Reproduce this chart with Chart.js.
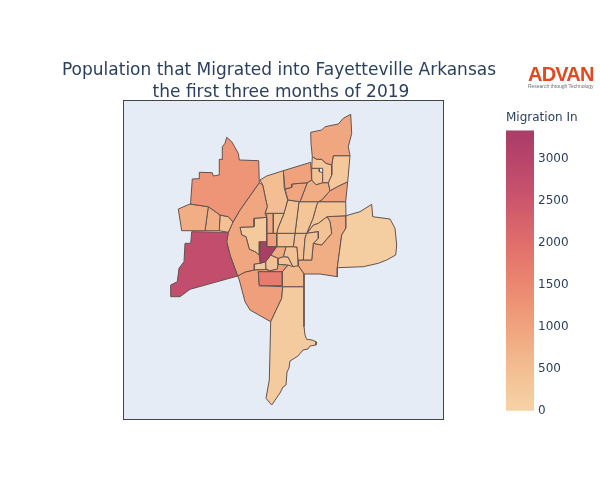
<!DOCTYPE html>
<html>
<head>
<meta charset="utf-8">
<script src="https://cdn.jsdelivr.net/npm/chart.js@4"></script>
<style>
html,body{margin:0;padding:0;background:#fff;width:600px;height:500px;overflow:hidden}
#title{position:absolute;left:0;top:58px;width:558px;text-align:center;color:#2a3f5f;font:17px/22px "DejaVu Sans",sans-serif}
#title span{position:relative;left:2px}
#mapBox{position:absolute;left:0;top:0;width:558px;height:500px}
#barBox{position:absolute;left:506px;top:108px;width:94px;height:314px}
#logo{position:absolute;left:528px;top:63px;width:68px;color:#e2491f;font:bold 20px/22px "Liberation Sans",sans-serif;letter-spacing:-0.8px}
#logo small{display:block;margin-top:-2px;color:#6d6d6d;font:normal 5px/7px "Liberation Sans",sans-serif;letter-spacing:-0.03px;white-space:nowrap}
</style>
</head>
<body>
<div id="mapBox"><canvas id="mapChart"></canvas></div>
<div id="barBox"><canvas id="barChart"></canvas></div>
<div id="title">Population that Migrated into Fayetteville Arkansas<br><span>the first three months of 2019</span></div>
<div id="logo">ADVAN<small>Research through Technology</small></div>
<script>
const colorbarTitle = 'Migration In';
const colorbarTicks = [0, 500, 1000, 1500, 2000, 2500, 3000];
const colorMax = 3333;

// migrants per tract
const migrationIn = [
  1250, 800, 780, 420, 2750, 950, 480, 230, 850, 420,
  950, 300, 1020, 380, 260, 130, 960, 820, 380, 1020,
  330, 360, 380, 400, 3300, 1050, 400, 420, 850, 400,
  350, 420, 1750, 600, 200, 1080, 820, 300, 1400
];

// tract outlines in traced map units, same order as migrationIn
const outlines = [
  [[226.7,137.3],[231.7,141.7],[238.3,153.3],[239.3,160],[258.7,160.7],[259.3,182.7],[240,210],[233,222],[228.3,216.7],[220,215],[208.3,206.7],[190,204],[190.7,201.7],[192.3,179],[199,178.7],[199.3,172.3],[212.3,172.7],[213.3,176],[219,175],[219.3,159.3],[222.7,159.3],[222.3,146.7],[225,143.3]],
  [[178.3,209],[190,204],[208.3,206.7],[205,230.7],[181.7,230.7],[180,220]],
  [[208.3,206.7],[220,215],[219.3,230.7],[205,230.7]],
  [[220,215],[228.3,216.7],[233,222],[228.3,232.3],[219.3,230.7]],
  [[191.7,231.7],[228.3,232.3],[226.7,241.7],[230,255],[237.7,276],[190,289.3],[180,296.7],[170.7,296.7],[170.7,285],[177.3,281.7],[179,268.3],[184,261.7],[185,243.3],[190.7,243.3]],
  [[259.3,182.7],[262.7,185],[267.3,206.7],[265,213.3],[266.7,217.3],[254,218.3],[254,226.7],[240,227.3],[241.7,235],[246,236.7],[249.3,249.3],[255,251.7],[259.3,255],[260,263.3],[254.3,264],[254.3,270],[245,272],[237.7,276],[230,255],[226.7,241.7],[228.3,232.3],[233,222],[240,210]],
  [[260,180],[266.7,176],[283.3,170.7],[284.3,188.3],[287.7,200],[284,213.3],[265,213.3],[267.3,206.7],[262.7,185]],
  [[240,227.3],[254,226.7],[254,218.3],[266.7,217.3],[266.7,241.7],[259.3,241.7],[259.3,255],[255,251.7],[249.3,249.3],[246,236.7],[241.7,235]],
  [[266.7,213.3],[273.3,213.3],[273.3,233.3],[266.7,233.3]],
  [[273.3,213.3],[284,213.3],[278,228],[276.7,233.3],[273.3,233.3]],
  [[310.7,132.3],[321.7,130],[325,126.7],[338.3,124],[343.3,118.3],[350.7,114.3],[351.7,133.3],[348.3,146.7],[350,155.7],[333.3,155.7],[331.7,165],[326,163.3],[321.7,159.3],[316.7,159.3],[312.3,156.7],[311,143.3]],
  [[312.3,156.7],[316.7,159.3],[321.7,159.3],[326,163.3],[331.7,165],[331.7,175],[328.3,182.7],[322.7,182.7],[322.7,168.3],[311.7,168.3]],
  [[283.3,170.7],[310.7,162.3],[311.7,180],[307.3,182.7],[291.7,184],[291.7,187.3],[285,189]],
  [[311.7,168.3],[319.3,168.3],[319.3,171.7],[323,172.7],[322.7,182.7],[316,184.7],[311.7,180]],
  [[333.3,155.7],[350,155.7],[347.7,181.7],[337.3,186.7],[330,190.7],[328.3,182.7],[331.7,175],[331.7,165]],
  [[346,215.7],[360,211.7],[371.7,204.3],[372.7,216.7],[390,219],[395,228.3],[396.7,245],[395.7,255],[386.7,260],[378.3,263.3],[363.3,266.7],[337.3,267.7],[341.7,235],[346,228]],
  [[285,189.3],[291.7,187.3],[291.7,184],[307.3,182.7],[300,201.7],[288,200]],
  [[311.7,180],[316,184.7],[322.7,182.7],[328.3,182.7],[330,190.7],[321.7,200],[318.3,201.7],[300,201.7],[307.3,182.7]],
  [[287.7,200],[299,201.7],[296.7,220],[295,233.3],[276.7,233.3],[278,228],[284,213.3]],
  [[330,190.7],[337.3,186.7],[347.7,181.7],[345.7,201.7],[318.3,201.7],[321.7,200]],
  [[299,201.7],[318.3,201.7],[316.7,205],[313,218.3],[306.7,233.3],[295,233.3],[296.7,220]],
  [[318.3,201.7],[345.7,201.7],[346,215.7],[327,216.7],[318.3,223.3],[313.3,225],[306.7,233.3],[313,218.3],[316.7,205]],
  [[306.7,233.3],[318.3,231.7],[318.3,238.3],[313.3,243.3],[311.7,260],[303.3,260],[305,238.3]],
  [[318.3,223.3],[327,216.7],[330,221.7],[331.7,233.3],[321.7,245],[313.3,243.3],[318.3,238.3],[318.3,231.7],[306.7,233.3],[313.3,225]],
  [[260,241],[266.7,241],[266.7,246.7],[276.7,246.7],[270.7,255],[265.7,261.7],[260,263.3]],
  [[266.7,233.3],[276.7,233.3],[276.7,246.7],[266.7,246.7]],
  [[276.7,233.3],[295,233.3],[293.3,246.7],[276.7,246.7]],
  [[295,233.3],[306.7,233.3],[305,238.3],[303.3,260],[298,260],[297,247],[293.3,246.7]],
  [[276.7,246.7],[286,246.7],[283.3,256.7],[278.3,258.3],[270.7,255]],
  [[286,246.7],[293.3,246.7],[297,247],[298,260],[298.3,265.7],[293,266.7],[288,257],[283.3,256.7]],
  [[283.3,256.7],[288,257],[293,266.7],[288.3,265],[278,264.3],[278.3,258.3]],
  [[265.7,261.7],[270.7,255],[278.3,258.3],[278,264.3],[277.3,269],[270,270.7],[266,269]],
  [[258.3,271.7],[282.3,271.7],[282.3,285.7],[259.3,285.7]],
  [[282.3,271.7],[288.3,265],[298.3,265.7],[304,274],[304,286.7],[282.7,286.7]],
  [[282.7,286.7],[304,286.7],[304,326.7],[305,335],[306.7,339.3],[312,340],[316.7,342],[316,345],[310,346],[308,349],[303,350],[298,356],[290,361],[289,368],[287,372],[286,385],[283,387],[280,393],[271.7,405],[266,398.3],[269.3,380],[270.7,321.7],[281.7,298.3]],
  [[237.7,276],[245,272],[254.3,270],[266,269.5],[270,270.7],[277.3,269],[278,264.3],[288.3,265],[282.3,271.7],[258.3,271.7],[259.3,285.7],[282.7,286.7],[281.7,298.3],[270.7,321.7],[250,310],[245,301.7],[239.3,280]],
  [[327,216.7],[346,215.7],[346,228],[341.7,235],[337.3,267.7],[337.3,276.7],[320,274],[304,274],[298.3,265.7],[298,260],[311.7,260],[313.3,243.3],[321.7,245],[331.7,233.3],[330,221.7]],
  [[254.3,264],[260,263.3],[265.7,261.7],[266,269.5],[254.3,270]],
  [[224,217.5],[228,218],[229,221],[226,222]]
];

const colorStops = [
  [0, [245, 211, 166]],
  [500, [243, 190, 145]],
  [1000, [240, 163, 125]],
  [1500, [235, 135, 112]],
  [2000, [224, 110, 107]],
  [2500, [204, 86, 108]],
  [3000, [184, 68, 107]],
  [3333, [168, 62, 102]]
];

function valueColor(v) {
  for (let i = 1; i < colorStops.length; i++) {
    if (v <= colorStops[i][0]) {
      const a = colorStops[i - 1], b = colorStops[i];
      const t = (v - a[0]) / (b[0] - a[0]);
      const c = a[1].map((n, k) => Math.round(n + (b[1][k] - n) * t));
      return 'rgb(' + c.join(',') + ')';
    }
  }
  return 'rgb(' + colorStops[colorStops.length - 1][1].join(',') + ')';
}

const mapFrame = {
  id: 'mapFrame',
  beforeDraw(chart) {
    const a = chart.chartArea, ctx = chart.ctx;
    ctx.save();
    ctx.fillStyle = '#e5ecf6';
    ctx.fillRect(a.left, a.top, a.width, a.height);
    ctx.strokeStyle = '#444';
    ctx.lineWidth = 1;
    ctx.strokeRect(a.left + 0.5, a.top + 0.5, a.width, a.height);
    ctx.restore();
  }
};

new Chart('mapChart', {
  type: 'scatter',
  data: {
    datasets: outlines.map((pts, i) => ({
      data: pts.concat([pts[0]]).map(p => ({x: p[0], y: p[1]})),
      showLine: true,
      fill: 'shape',
      backgroundColor: valueColor(migrationIn[i]),
      borderColor: '#64534f',
      borderWidth: 1,
      pointRadius: 0,
      tension: 0
    }))
  },
  options: {
    responsive: true,
    maintainAspectRatio: false,
    animation: false,
    layout: {padding: {left: 123, right: 115, bottom: 81, top: 100}},
    plugins: {
      legend: {display: false},
      tooltip: {enabled: false}
    },
    scales: {
      x: {type: 'linear', display: false, min: 123, max: 443},
      y: {type: 'linear', display: false, min: 100, max: 419, reverse: true}
    }
  },
  plugins: [mapFrame]
});

new Chart('barChart', {
  type: 'bar',
  data: {
    labels: [colorbarTitle],
    datasets: [{
      data: [[0, colorMax]],
      barPercentage: 1,
      categoryPercentage: 1,
      backgroundColor(ctx) {
        const a = ctx.chart.chartArea;
        if (!a) return 'rgb(245,211,166)';
        const g = ctx.chart.ctx.createLinearGradient(0, a.bottom, 0, a.top);
        colorStops.forEach(s => g.addColorStop(s[0] / colorMax, 'rgb(' + s[1].join(',') + ')'));
        return g;
      }
    }]
  },
  options: {
    responsive: true,
    maintainAspectRatio: false,
    animation: false,
    layout: {padding: {left: 0, right: 0, bottom: 10, top: 0}},
    plugins: {
      legend: {display: false},
      tooltip: {enabled: false},
      title: {
        display: true,
        text: colorbarTitle,
        align: 'start',
        color: '#2a3f5f',
        font: {family: 'DejaVu Sans', size: 12, weight: 'normal', lineHeight: 1.2},
        padding: {top: 3, bottom: 5}
      }
    },
    scales: {
      x: {display: false},
      y: {
        position: 'right',
        min: 0,
        max: colorMax,
        afterBuildTicks(scale) { scale.ticks = colorbarTicks.map(v => ({value: v})); },
        afterFit(scale) { scale.width = 66; },
        grid: {display: false, drawTicks: false},
        border: {display: false},
        ticks: {
          color: '#2a3f5f',
          padding: 4,
          autoSkip: false,
          font: {family: 'DejaVu Sans', size: 12},
          callback: v => String(v)
        }
      }
    }
  }
});
</script>
</body>
</html>
